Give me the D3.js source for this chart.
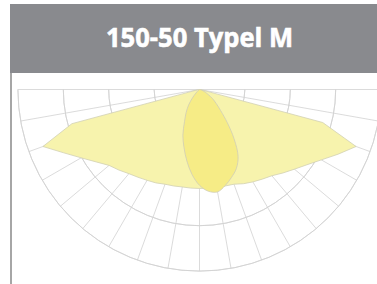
<!DOCTYPE html>
<html lang="en">
<head>
<meta charset="utf-8">
<script src="https://d3js.org/d3.v7.min.js"></script>
<style>
  body { margin: 0; background: #fff; }
</style>
</head>
<body>
<div id="chart"></div>
<script>

    // title of the sheet
    var title = "150-50 Typel M";

    // polar grid: rings (cd/klm) and radial lines (deg from nadir)
    var rings = [100, 200, 300, 400];
    var spokes = [-80, -70, -60, -50, -40, -30, -20, -10, 0, 10, 20, 30, 40, 50, 60, 70, 80];

    // measured angles, negative = left half (C180), positive = right half (C0)
    var angles = [-90, -85, -80, -75, -70, -65, -60, -55, -50, -45, -40, -35, -30, -25, -20, -15, -10, -5,
                  0, 5, 10, 15, 20, 25, 30, 35, 40, 45, 50, 55, 60, 65, 70, 75, 80, 85, 90];

    // C0-C180 plane (wide, light yellow)
    var planeWide = [0, 0, 5, 291, 367, 330, 301, 278, 260, 251, 242, 236, 231, 227, 222, 220, 218, 218,
                     218, 218, 219, 220, 222, 229, 235, 241, 248, 260, 273, 289, 310, 337, 367, 281, 5, 0, 0];

    // C90-C270 plane (narrow, darker yellow)
    var planeNarrow = [0, 0, 0, 0, 0, 0, 0, 0, 4, 11, 24, 42, 59, 78, 107, 132, 160, 188,
                       211, 225, 229, 219, 206, 192, 170, 133, 95, 66, 48, 35, 22, 14, 8, 4, 0, 0, 0];

    var W = 377, H = 284;
    var cx = 199.5, cy = 89.5;

    var svg = d3.select("#chart")
      .append("svg")
        .attr("width", W)
        .attr("height", H);

    // header band
    svg.append("rect")
        .attr("x", 10).attr("y", 4)
        .attr("width", W - 10).attr("height", 69)
        .style("fill", "#898a8e");

    svg.append("text")
        .attr("x", 199.5).attr("y", 47)
        .attr("text-anchor", "middle")
        .attr("textLength", 187)
        .attr("lengthAdjust", "spacingAndGlyphs")
        .style("font-family", "'Open Sans', sans-serif")
        .style("font-weight", "bold")
        .style("font-size", "27px")
        .style("fill", "#ffffff")
        .style("stroke", "#ffffff")
        .style("stroke-width", 0.6)
        .text(title);

    // left frame line
    svg.append("line")
        .attr("x1", 11).attr("x2", 11)
        .attr("y1", 73).attr("y2", H)
        .style("stroke", "#808080")
        .style("stroke-width", 1.4);

    var g = svg.append("g")
        .attr("transform", "translate(" + cx + "," + cy + ")");

    // scales
    var r = d3.scaleLinear().domain([0, 400]).range([0, 181.6]);
    var a = d3.scaleLinear().domain([-90, 90]).range([1.5 * Math.PI, 0.5 * Math.PI]);

    var gridColor = "#d2d2d2";

    // rings
    g.selectAll(".ring")
      .data(rings)
      .enter()
      .append("path")
        .attr("class", "ring")
        .attr("d", function (d) {
          return d3.arc()({innerRadius: r(d), outerRadius: r(d), startAngle: 0.5 * Math.PI, endAngle: 1.5 * Math.PI});
        })
        .style("fill", "none")
        .style("stroke", gridColor)
        .style("stroke-width", 0.8);

    // horizontal line (90 deg)
    g.append("line")
        .attr("x1", -r(400)).attr("x2", r(400))
        .attr("y1", 0).attr("y2", 0)
        .style("stroke", gridColor)
        .style("stroke-width", 0.8);

    // radial lines
    g.selectAll(".spoke")
      .data(spokes)
      .enter()
      .append("line")
        .attr("class", "spoke")
        .attr("x1", 0).attr("y1", 0)
        .attr("x2", function (d) { return r(400) * Math.sin(a(d)); })
        .attr("y2", function (d) { return -r(400) * Math.cos(a(d)); })
        .style("stroke", gridColor)
        .style("stroke-width", 0.8);

    // curves
    var wideLine = d3.lineRadial()
        .angle(function (d, i) { return a(angles[i]); })
        .radius(function (d) { return r(d); })
        .curve(d3.curveLinearClosed);

    var narrowLine = d3.lineRadial()
        .angle(function (d, i) { return a(angles[i]); })
        .radius(function (d) { return r(d); })
        .curve(d3.curveCatmullRomClosed);

    g.append("path")
        .attr("d", wideLine(planeWide))
        .style("fill", "#f7f3ad")
        .style("stroke", "#d2d0b4")
        .style("stroke-width", 0.8);

    g.append("path")
        .attr("d", narrowLine(planeNarrow))
        .style("fill", "#f6ec86")
        .style("stroke", "#cfcdb8")
        .style("stroke-width", 0.8);

</script>
</body>
</html>
